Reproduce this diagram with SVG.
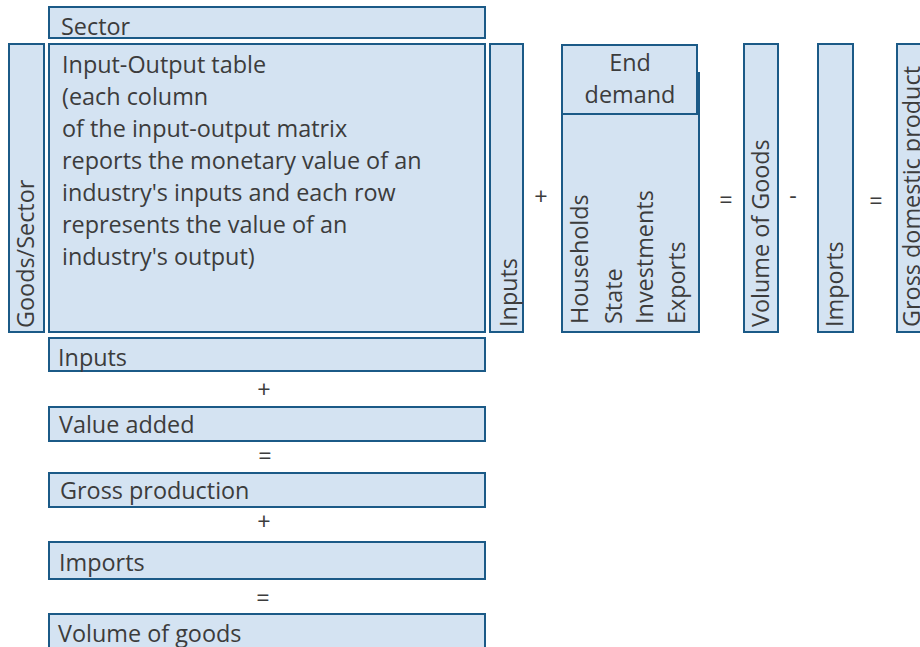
<svg xmlns="http://www.w3.org/2000/svg" width="920" height="647" viewBox="0 0 920 647">
<style>
.b{fill:#d4e3f2;stroke:#1b5a87;stroke-width:2}
text{font-family:"Open Sans","Liberation Sans",sans-serif;font-size:23.4px;fill:#3c3c3c}
.op{text-anchor:middle}
</style>
<rect width="920" height="647" fill="#fff"/>
<g id="sector"><rect class="b" x="49" y="7" width="436" height="31"/><text x="61" y="35">Sector</text></g>
<g id="goods-sector"><rect class="b" x="9" y="44" width="35" height="288"/><text transform="translate(34,328) rotate(-90)">Goods/Sector</text></g>
<g id="io-table"><rect class="b" x="49" y="44" width="436" height="288"/>
<text x="62" y="73">Input-Output table</text>
<text x="62" y="105">(each column</text>
<text x="62" y="137">of the input-output matrix</text>
<text x="62" y="169">reports the monetary value of an</text>
<text x="62" y="201">industry's inputs and each row</text>
<text x="62" y="233">represents the value of an</text>
<text x="62" y="265">industry's output)</text></g>
<g id="inputs-v"><rect class="b" x="490" y="44" width="33" height="288"/><text transform="translate(517,327) rotate(-90)">Inputs</text></g>
<g id="end-demand"><rect class="b" x="562" y="73" width="137" height="259"/><rect class="b" x="562" y="45" width="135" height="69"/>
<text class="op" x="630" y="71">End</text><text class="op" x="630" y="103">demand</text>
<text transform="translate(588,324) rotate(-90)">Households</text>
<text transform="translate(622,324) rotate(-90)">State</text>
<text transform="translate(653,324) rotate(-90)">Investments</text>
<text transform="translate(685,324) rotate(-90)">Exports</text></g>
<g id="volume-v"><rect class="b" x="744" y="44" width="34" height="288"/><text transform="translate(769,327) rotate(-90)">Volume of Goods</text></g>
<g id="imports-v"><rect class="b" x="818" y="44" width="35" height="288"/><text transform="translate(843,327) rotate(-90)">Imports</text></g>
<g id="gdp"><rect class="b" x="897" y="44" width="40" height="288"/><text transform="translate(920,327) rotate(-90)">Gross domestic product</text></g>
<g id="inputs-h"><rect class="b" x="49" y="338" width="436" height="33"/><text x="58" y="366">Inputs</text></g>
<g id="value-added"><rect class="b" x="49" y="407" width="436" height="34"/><text x="59" y="433">Value added</text></g>
<g id="gross-production"><rect class="b" x="49" y="473" width="436" height="34"/><text x="60" y="499">Gross production</text></g>
<g id="imports-h"><rect class="b" x="49" y="542" width="436" height="37"/><text x="59" y="571">Imports</text></g>
<g id="volume-h"><rect class="b" x="49" y="614" width="436" height="40"/><text x="58" y="642">Volume of goods</text></g>
<g id="operators">
<text class="op" x="541" y="205">+</text>
<text class="op" x="726" y="208">=</text>
<text class="op" x="793" y="204">-</text>
<text class="op" x="876" y="209">=</text>
<text class="op" x="264" y="398">+</text>
<text class="op" x="265" y="464">=</text>
<text class="op" x="264" y="530">+</text>
<text class="op" x="263" y="606">=</text>
</g>
</svg>
